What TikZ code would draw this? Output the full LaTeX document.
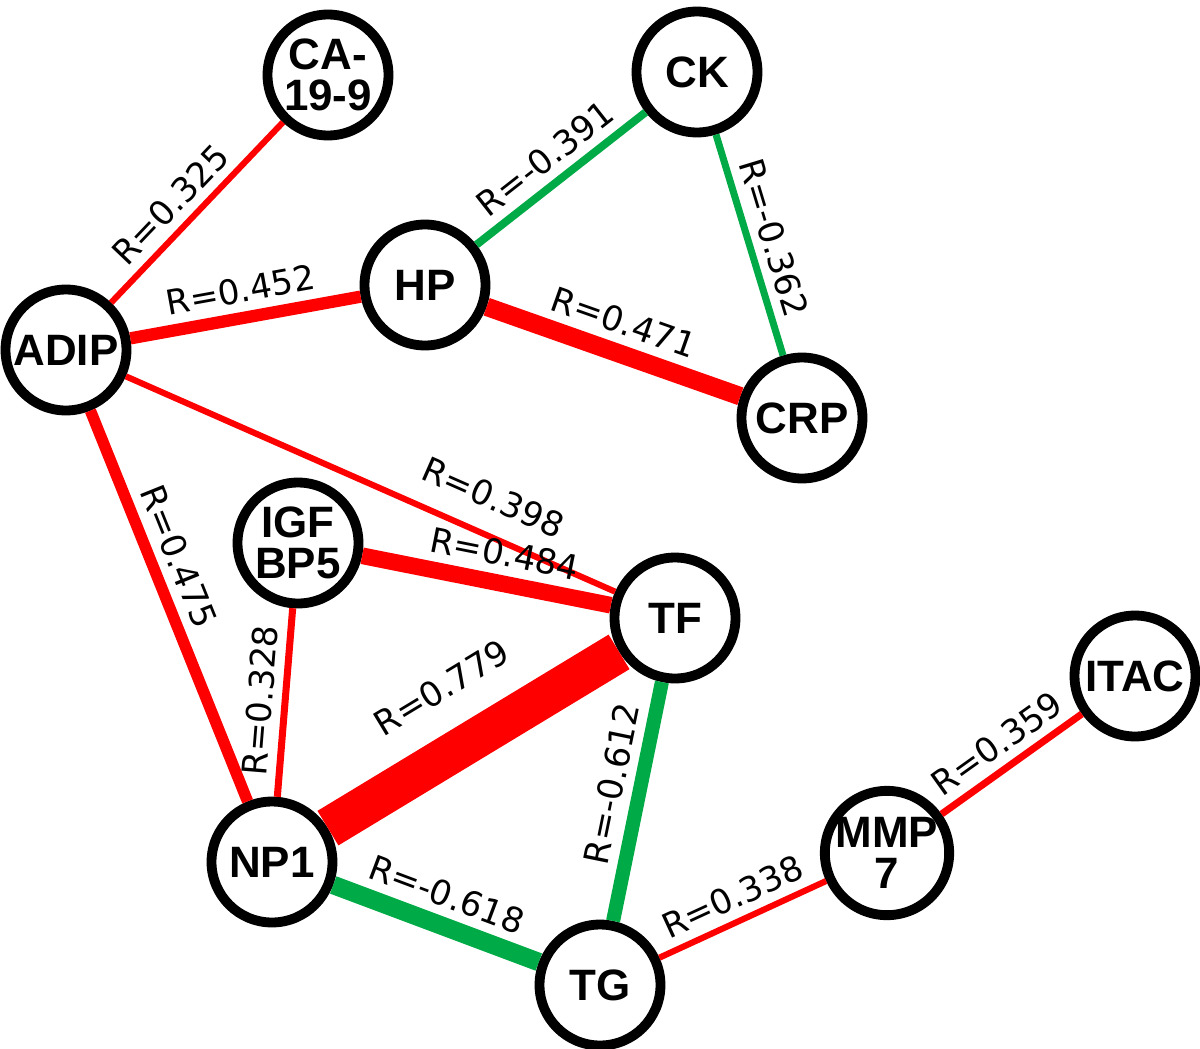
\documentclass[tikz,border=0pt]{standalone}
\usepackage{fontspec}
\setmainfont{Liberation Sans}
\newfontfamily\lblfont{DejaVu Sans}
\definecolor{myred}{RGB}{255,0,0}
\definecolor{mygreen}{RGB}{0,170,70}
\begin{document}
\begin{tikzpicture}[x=0.02cm,y=-0.02cm,
  nd/.style={circle,draw=black,line width=5.6pt,fill=white,minimum size=2.42cm,inner sep=0pt,align=center,font=\fontsize{25}{23}\selectfont\bfseries},
  lb/.style={sloped,above,inner sep=5pt,font=\lblfont\fontsize{19.5}{19}\selectfont},
  rd/.style={draw=myred,line width=#1},
  gr/.style={draw=mygreen,line width=#1}]
\useasboundingbox (0,0) rectangle (1200,1048);
\node[nd] (CA) at (328,75) {CA-\\19-9};
\node[nd] (CK) at (697,72) {CK};
\node[nd] (HP) at (425,285) {HP};
\node[nd] (ADIP) at (66,350) {ADIP};
\node[nd] (CRP) at (802,418) {CRP};
\node[nd] (IGF) at (298,543) {IGF\\BP5};
\node[nd] (TF) at (675,618) {TF};
\node[nd] (ITAC) at (1135,676) {ITAC};
\node[nd] (NP1) at (272,862) {NP1};
\node[nd] (MMP) at (887,853) {MMP\\7};
\node[nd] (TG) at (600,985) {TG};
\draw[rd=3.5pt] (ADIP) -- node[lb,pos=0.45]{R=0.325} (CA);
\draw[rd=7pt] (ADIP) -- node[lb]{R=0.452} (HP);
\draw[gr=4.5pt] (HP) -- node[lb]{R=-0.391} (CK);
\draw[gr=4pt] (CK) -- node[lb]{R=-0.362} (CRP);
\draw[rd=10.5pt] (HP) -- node[lb]{R=0.471} (CRP);
\draw[rd=3.5pt] (ADIP) -- node[lb,pos=0.72,above=7pt]{R=0.398} (TF);
\draw[rd=6.5pt] (ADIP) -- node[lb,pos=0.4]{R=0.475} (NP1);
\draw[rd=9.5pt] (IGF) -- node[lb,pos=0.55]{R=0.484} (TF);
\draw[rd=4pt] (NP1) -- node[lb]{R=0.328} (IGF);
\draw[rd=23pt] (NP1) -- node[lb,above=11pt]{R=0.779} (TF);
\draw[gr=10.5pt] (NP1) -- node[lb]{R=-0.618} (TG);
\draw[gr=8pt] (TG) -- node[lb,pos=0.55]{R=-0.612} (TF);
\draw[rd=3.5pt] (TG) -- node[lb]{R=0.338} (MMP);
\draw[rd=4pt] (MMP) -- node[lb]{R=0.359} (ITAC);
\end{tikzpicture}
\end{document}
